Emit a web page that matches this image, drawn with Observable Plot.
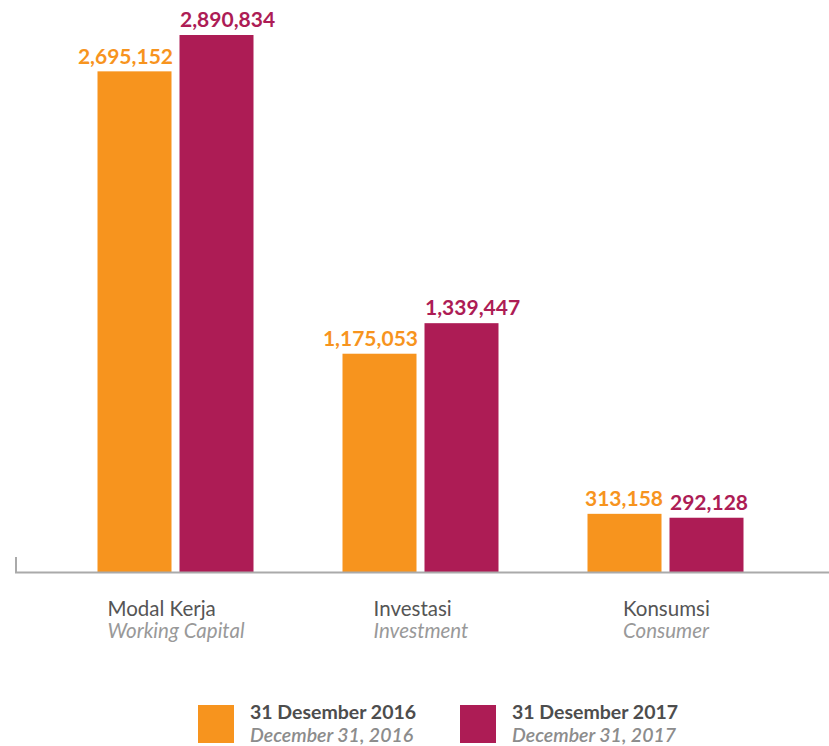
<!DOCTYPE html>
<html>
<head>
<meta charset="utf-8">
<script src="https://cdn.jsdelivr.net/npm/d3@7"></script>
<script src="https://cdn.jsdelivr.net/npm/@observablehq/plot@0.6"></script>
<style>
  html, body { margin: 0; padding: 0; background: #fff; font-family: Lato, sans-serif; }
  #chart { width: 829px; }
  .legend { display: flex; margin-left: 198px; margin-top: 15px; }
  .item { display: flex; align-items: flex-start; }
  .swatch { width: 36px; height: 38px; margin-right: 16px; flex: none; }
  .lbl { line-height: 23px; font-size: 19.5px; margin-top: -5px; white-space: nowrap; }
  .l1 { font-weight: 700; color: #4d4d4d; }
  .l2 { font-style: italic; font-weight: 600; color: #8c8c8c; }
</style>
</head>
<body>
<div id="chart"></div>
<script>
const categories = ["Modal Kerja", "Investasi", "Konsumsi"];
const categoriesEn = ["Working Capital", "Investment", "Consumer"];
const series = ["31 Desember 2016", "31 Desember 2017"];
const seriesEn = ["December 31, 2016", "December 31, 2017"];
const values2016 = [2695152, 1175053, 313158];
const values2017 = [2890834, 1339447, 292128];
const colors = ["#F7941E", "#AD1C55"];

const rows2016 = categories.map((c, i) => ({category: c, value: values2016[i]}));
const rows2017 = categories.map((c, i) => ({category: c, value: values2017[i]}));

const W = 829, H = 690, mL = 15, mR = 0, mT = 35, mB = 118;
const fmt = d3.format(",");
const catSize = 20.5;

const ctx = document.createElement("canvas").getContext("2d");
ctx.font = `italic ${catSize}px Lato`;
const enWidths = categoriesEn.map(t => ctx.measureText(t).width);

const labelMarks = categories.flatMap((c, i) => [
  Plot.text([c], {x: d => d, text: d => d, frameAnchor: "bottom", lineAnchor: "middle", textAnchor: "start",
    dx: -enWidths[i] / 2, dy: 36.5, fontSize: catSize, fill: "#555"}),
  Plot.text([c], {x: d => d, text: () => categoriesEn[i], frameAnchor: "bottom", lineAnchor: "middle", textAnchor: "start",
    dx: -enWidths[i] / 2, dy: 58.5, fontSize: catSize, fontStyle: "italic", fill: "#999"})
]);

const cornerTick = (index, scales, values, dims) => {
  const g = document.createElementNS("http://www.w3.org/2000/svg", "line");
  const x0 = dims.marginLeft + 1;
  const yb = dims.height - dims.marginBottom;
  g.setAttribute("x1", x0); g.setAttribute("x2", x0);
  g.setAttribute("y1", yb - 15); g.setAttribute("y2", yb);
  g.setAttribute("stroke", "#aaa"); g.setAttribute("stroke-width", 2);
  return g;
};

const plot = Plot.plot({
  width: W, height: H,
  marginLeft: mL, marginRight: mR, marginTop: mT, marginBottom: mB,
  style: {fontFamily: "Lato, sans-serif", background: "#fff"},
  x: {domain: categories, padding: 0, paddingOuter: 0.1612, align: 0.487, axis: null},
  y: {domain: [0, d3.max([...values2016, ...values2017])], axis: null},
  marks: [
    Plot.barY(rows2016, {x: "category", y: "value", fill: colors[0], insetLeft: 44.5, insetRight: 126.5}),
    Plot.barY(rows2017, {x: "category", y: "value", fill: colors[1], insetLeft: 126.5, insetRight: 44.5}),
    Plot.ruleY([0], {stroke: "#aaa", strokeWidth: 2}),
    cornerTick,
    Plot.text(rows2016, {x: "category", y: "value", text: d => fmt(d.value), textAnchor: "end", dx: -3, dy: -15,
      fill: colors[0], fontSize: 21, fontWeight: "bold"}),
    Plot.text(rows2017, {x: "category", y: "value", text: d => fmt(d.value), textAnchor: "start", dx: 4, dy: -15,
      fill: colors[1], fontSize: 21, fontWeight: "bold"}),
    ...labelMarks
  ]
});
document.getElementById("chart").appendChild(plot);

const legend = document.createElement("div");
legend.className = "legend";
series.forEach((s, i) => {
  const item = document.createElement("div");
  item.className = "item";
  if (i === 0) item.style.width = "262px";
  item.innerHTML = `<div class="swatch" style="background:${colors[i]}"></div>
    <div class="lbl"><div class="l1">${s}</div><div class="l2">${seriesEn[i]}</div></div>`;
  legend.appendChild(item);
});
document.getElementById("chart").appendChild(legend);
</script>
</body>
</html>
